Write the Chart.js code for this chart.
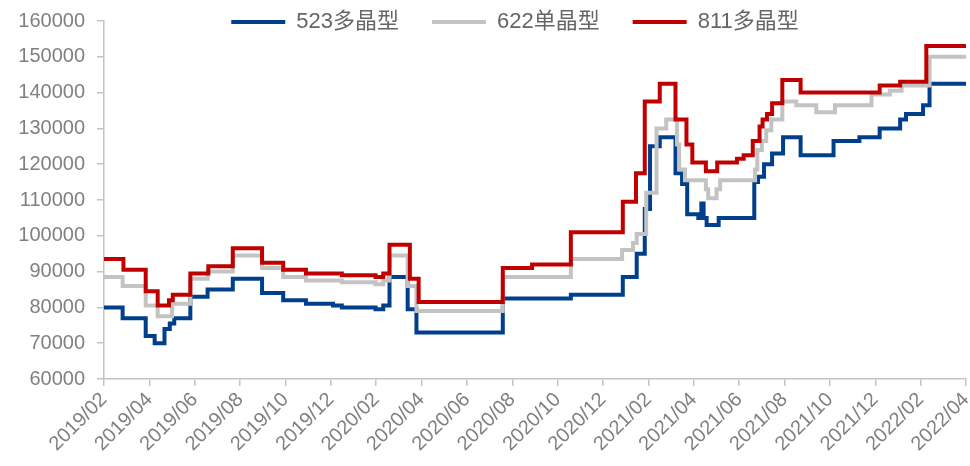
<!DOCTYPE html>
<html>
<head>
<meta charset="utf-8">
<script src="https://cdn.jsdelivr.net/npm/chart.js@4.4.1/dist/chart.umd.min.js"></script>
<style>
  html, body { margin: 0; padding: 0; background: #ffffff; }
  #wrap { width: 970px; height: 466px; position: relative; }
</style>
</head>
<body>
<div id="wrap"><canvas id="c"></canvas></div>
<script>
// Price change points (date the new price takes effect, price in 元/吨)
const dates523 = ['2019-02-01','2019-02-24','2019-03-27','2019-04-08','2019-04-21','2019-04-28','2019-05-04','2019-05-26','2019-06-18','2019-07-22','2019-08-31','2019-09-28','2019-10-29','2019-12-04','2019-12-16','2020-01-31','2020-02-10','2020-02-18','2020-03-13','2020-03-25','2020-07-19','2020-10-19','2020-12-28','2021-01-16','2021-01-27','2021-02-03','2021-02-15','2021-03-07','2021-03-16','2021-03-23','2021-04-07','2021-04-11','2021-04-14','2021-04-18','2021-05-04','2021-06-21','2021-06-26','2021-07-04','2021-07-15','2021-07-30','2021-08-23','2021-10-06','2021-11-10','2021-12-07','2022-01-04','2022-01-12','2022-02-04','2022-02-12','2022-04-01'];
const price523 = [80000,77000,72000,70000,74000,75500,77000,83000,85000,88000,84000,82000,81000,80500,80000,79500,80500,88500,79500,73000,82500,83500,88500,95000,107500,125000,127500,117500,114500,106000,105000,109000,105000,103000,105000,115000,116500,120000,123000,127500,122500,126500,127500,130000,132500,134000,136500,142500,142500];

const dates622 = ['2019-02-01','2019-02-24','2019-03-27','2019-04-12','2019-05-01','2019-05-26','2019-06-18','2019-07-22','2019-08-31','2019-09-28','2019-10-29','2019-12-16','2020-01-31','2020-02-10','2020-02-18','2020-03-13','2020-03-25','2020-07-19','2020-10-19','2020-12-27','2021-01-11','2021-01-16','2021-01-29','2021-02-11','2021-02-23','2021-03-09','2021-03-12','2021-03-20','2021-04-17','2021-04-20','2021-05-01','2021-05-06','2021-06-22','2021-06-25','2021-07-01','2021-07-07','2021-07-14','2021-07-29','2021-08-17','2021-09-13','2021-10-08','2021-11-26','2021-12-21','2022-01-06','2022-02-12','2022-04-01'];
const price622 = [88500,86000,80500,77500,81000,88000,90000,94500,91000,88500,87500,87000,86500,87500,94500,86000,79000,88500,93500,96000,98000,100500,112000,130000,132500,125500,118500,115500,113000,110500,113000,115500,118500,124000,126500,129500,132500,137500,136500,134500,136500,139500,140500,142000,150000,150000];

const dates811 = ['2019-02-01','2019-02-25','2019-03-27','2019-04-12','2019-04-27','2019-05-02','2019-05-26','2019-06-19','2019-07-22','2019-08-31','2019-09-28','2019-10-29','2019-12-16','2020-01-31','2020-02-10','2020-02-18','2020-03-16','2020-03-28','2020-07-19','2020-08-28','2020-10-19','2020-12-28','2021-01-15','2021-01-27','2021-02-15','2021-03-07','2021-03-22','2021-03-30','2021-04-17','2021-05-02','2021-05-29','2021-06-07','2021-06-19','2021-06-28','2021-07-02','2021-07-08','2021-07-15','2021-07-29','2021-08-23','2021-12-07','2022-01-04','2022-02-08','2022-04-01'];
const price811 = [93500,90500,84500,80500,82000,83500,89500,91500,96500,92500,90500,89500,89000,88500,89500,97500,88000,81500,91000,92000,101000,109500,117500,137500,142500,132500,125500,120500,118000,120500,121500,122500,126500,130500,132500,134000,137000,143500,140000,142000,143000,153000,153000];

const seriesNames = ['523多晶型', '622单晶型', '811多晶型'];
const xTickLabels = ['2019/02','2019/04','2019/06','2019/08','2019/10','2019/12','2020/02','2020/04','2020/06','2020/08','2020/10','2020/12','2021/02','2021/04','2021/06','2021/08','2021/10','2021/12','2022/02','2022/04'];

// Months elapsed since 2019-02-01 (fractional)
function monthIndex(s) {
  const [y, m, d] = s.split('-').map(Number);
  const dim = new Date(y, m, 0).getDate();
  return (y - 2019) * 12 + (m - 2) + (d - 1) / dim;
}
function toPoints(dates, values) {
  return dates.map((d, i) => ({ x: monthIndex(d), y: values[i] }));
}

const FONT = "'Liberation Sans', Arial, 'Noto Sans CJK SC', sans-serif";
const AXIS_GREY = '#c4c4c4';

// Legend sits inside the plot, level with the top tick
const legendInPlot = {
  id: 'legendInPlot',
  afterInit(chart) {
    const legend = chart.legend;
    if (!legend) return;
    const fit = legend.fit.bind(legend);
    legend.fit = function () { fit(); this.height = 0; };
  },
  afterLayout(chart) {
    const legend = chart.legend;
    if (!legend) return;
    legend.left = 60;
    legend.right = 970;
    legend.width = legend.right - legend.left;
    legend.top = -22;
    legend.bottom = 80;
    legend.height = legend.bottom - legend.top;
  }
};

new Chart(document.getElementById('c'), {
  type: 'line',
  data: {
    datasets: [
      { label: seriesNames[0], data: toPoints(dates523, price523), borderColor: '#003f8c', backgroundColor: '#003f8c', borderWidth: 4, order: 3 },
      { label: seriesNames[1], data: toPoints(dates622, price622), borderColor: '#c3c3c3', backgroundColor: '#c3c3c3', borderWidth: 4, order: 2 },
      { label: seriesNames[2], data: toPoints(dates811, price811), borderColor: '#c00000', backgroundColor: '#c00000', borderWidth: 4, order: 1 }
    ]
  },
  options: {
    responsive: true,
    maintainAspectRatio: false,
    animation: false,
    layout: { padding: { top: 21, right: 4, bottom: 0, left: 0 } },
    elements: {
      line: { stepped: true, tension: 0, borderJoinStyle: 'miter', borderCapStyle: 'butt' },
      point: { radius: 0, hoverRadius: 0 }
    },
    plugins: {
      tooltip: { enabled: false },
      legend: {
        position: 'top',
        align: 'center',
        labels: {
          usePointStyle: true,
          pointStyle: 'line',
          pointStyleWidth: 54,
          padding: 33,
          color: '#666666',
          font: { size: 22, family: FONT },
          sort: (a, b) => a.datasetIndex - b.datasetIndex
        }
      }
    },
    scales: {
      x: {
        type: 'linear',
        min: 0,
        max: 38,
        afterFit(scale) { scale.height = 87; scale.paddingLeft = 0; scale.paddingRight = 0; },
        afterBuildTicks(scale) {
          scale.ticks = xTickLabels.map((_, i) => ({ value: i * 2 }));
        },
        ticks: {
          autoSkip: false,
          maxRotation: 45,
          minRotation: 45,
          padding: 2,
          color: '#808080',
          font: { size: 20, family: FONT },
          callback: (v) => xTickLabels[Math.round(v / 2)]
        },
        grid: { display: true, drawOnChartArea: false, drawTicks: true, tickLength: 7, color: AXIS_GREY, lineWidth: 1.5 },
        border: { display: true, color: AXIS_GREY, width: 1.5 }
      },
      y: {
        min: 60000,
        max: 160000,
        afterFit(scale) { scale.width = 104; scale.paddingTop = 0; scale.paddingBottom = 0; },
        ticks: {
          stepSize: 10000,
          padding: 12,
          color: '#808080',
          font: { size: 20, family: FONT },
          callback: (v) => String(v)
        },
        grid: { display: true, drawOnChartArea: false, drawTicks: true, tickLength: 7, color: AXIS_GREY, lineWidth: 1.5 },
        border: { display: true, color: AXIS_GREY, width: 1.5 }
      }
    }
  },
  plugins: [legendInPlot]
});
</script>
</body>
</html>
